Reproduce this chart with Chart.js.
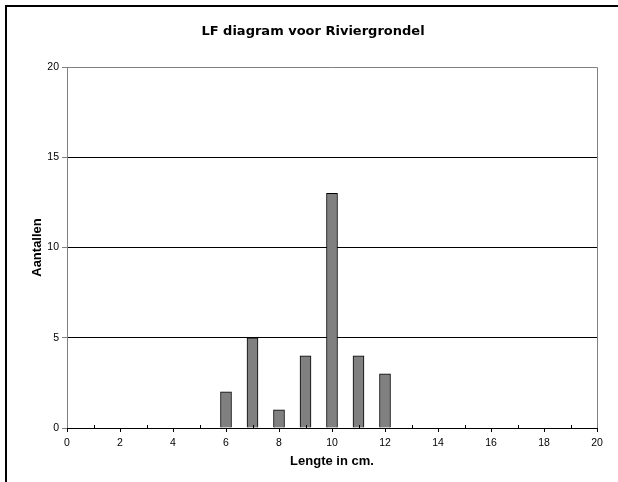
<!DOCTYPE html>
<html>
<head>
<meta charset="utf-8">
<title>LF diagram voor Riviergrondel</title>
<script src="https://cdn.jsdelivr.net/npm/chart.js@4.4.0/dist/chart.umd.min.js"></script>
<style>
  html, body { margin: 0; padding: 0; background: #fff; }
  #wrap { width: 618px; height: 482px; }
</style>
</head>
<body>
<div id="wrap"><canvas id="c" width="618" height="482"></canvas></div>
<script>
// Length classes (cm) and the number of fish counted in each
const lengths = [6, 7, 8, 9, 10, 11, 12];
const counts  = [2, 5, 1, 4, 13, 4, 3];

// Axis ranges and tick spacing
const xRange = { min: 0, max: 20, labelStep: 2 };
const yRange = { min: 0, max: 20, step: 5 };

const chartTitle = 'LF diagram voor Riviergrondel';
const xTitle = 'Lengte in cm.';
const yTitle = 'Aantallen';

const points = lengths.map((l, i) => ({ x: l, y: counts[i] }));

// Page frame, page title, plot border and the small tick marks on the length axis
const framePlugin = {
  id: 'frame',
  beforeDraw(chart) {
    const ctx = chart.ctx;
    ctx.save();
    ctx.fillStyle = '#ffffff';
    ctx.fillRect(0, 0, chart.width, chart.height);
    ctx.strokeStyle = '#000000';
    ctx.lineWidth = 2;
    ctx.beginPath();
    ctx.moveTo(6, chart.height + 2);
    ctx.lineTo(6, 6);
    ctx.lineTo(chart.width + 2, 6);
    ctx.stroke();
    // title, centred on the page
    ctx.fillStyle = '#000000';
    ctx.font = 'bold 13px "DejaVu Sans"';
    ctx.textAlign = 'center';
    ctx.textBaseline = 'middle';
    ctx.fillText(chartTitle, chart.width / 2 + 4, 32);
    ctx.restore();
  },
  afterDatasetsDraw(chart) {
    const { ctx, chartArea: a, scales } = chart;
    ctx.save();
    ctx.lineWidth = 1;
    // top and right border
    ctx.strokeStyle = '#808080';
    ctx.beginPath();
    ctx.moveTo(a.left, a.top + 0.5);
    ctx.lineTo(a.right + 0.5, a.top + 0.5);
    ctx.lineTo(a.right + 0.5, a.bottom);
    ctx.stroke();
    // left axis line
    ctx.beginPath();
    ctx.moveTo(a.left + 0.5, a.top);
    ctx.lineTo(a.left + 0.5, a.bottom);
    ctx.stroke();
    // bottom axis line
    ctx.strokeStyle = '#000000';
    ctx.beginPath();
    ctx.moveTo(a.left, a.bottom + 0.5);
    ctx.lineTo(a.right + 1, a.bottom + 0.5);
    ctx.stroke();
    // ticks: labelled values point down, the ones between point up
    const xs = scales.x;
    for (let v = xRange.min; v <= xRange.max; v++) {
      const px = Math.round(xs.getPixelForValue(v)) + 0.5;
      ctx.beginPath();
      if (v % xRange.labelStep === 0) {
        ctx.moveTo(px, a.bottom);
        ctx.lineTo(px, a.bottom + 4);
      } else {
        ctx.moveTo(px, a.bottom - 3);
        ctx.lineTo(px, a.bottom);
      }
      ctx.stroke();
    }
    ctx.restore();
  }
};

new Chart(document.getElementById('c'), {
  type: 'bar',
  data: {
    datasets: [{
      data: points,
      backgroundColor: '#808080',
      borderColor: '#000000',
      borderWidth: 1,
      barThickness: 11
    }]
  },
  options: {
    responsive: false,
    animation: false,
    events: [],
    layout: { padding: { left: 0, right: 21, top: 67, bottom: 0 } },
    plugins: {
      legend: { display: false },
      tooltip: { enabled: false },
      title: { display: false }
    },
    scales: {
      x: {
        type: 'linear',
        min: xRange.min,
        max: xRange.max,
        offset: false,
        grid: { display: false, drawTicks: false },
        border: { display: false },
        ticks: {
          stepSize: xRange.labelStep,
          color: '#000000',
          padding: 9,
          font: { family: 'Liberation Sans', size: 10.5 }
        },
        title: {
          display: true,
          text: xTitle,
          color: '#000000',
          font: { family: 'Liberation Sans', size: 13, weight: 'bold', lineHeight: 1.2 },
          padding: { top: 4, bottom: 13 }
        },
        afterFit(scale) { scale.height = 482 - 428; }
      },
      y: {
        min: yRange.min,
        max: yRange.max,
        grid: {
          drawOnChartArea: true,
          drawTicks: true,
          tickLength: 5,
          tickColor: '#808080',
          color: (c) => (c.tick && (c.tick.value === yRange.min || c.tick.value === yRange.max)) ? 'rgba(0,0,0,0)' : '#000000',
          lineWidth: 1
        },
        border: { display: false },
        ticks: {
          stepSize: yRange.step,
          color: '#000000',
          padding: 3,
          font: { family: 'Liberation Sans', size: 10.5 }
        },
        title: {
          display: true,
          text: yTitle,
          color: '#000000',
          font: { family: 'Liberation Sans', size: 13, weight: 'bold', lineHeight: 1.2 },
          padding: { top: 30, bottom: 0 }
        },
        afterFit(scale) { scale.width = 67; }
      }
    }
  },
  plugins: [framePlugin]
});
</script>
</body>
</html>
